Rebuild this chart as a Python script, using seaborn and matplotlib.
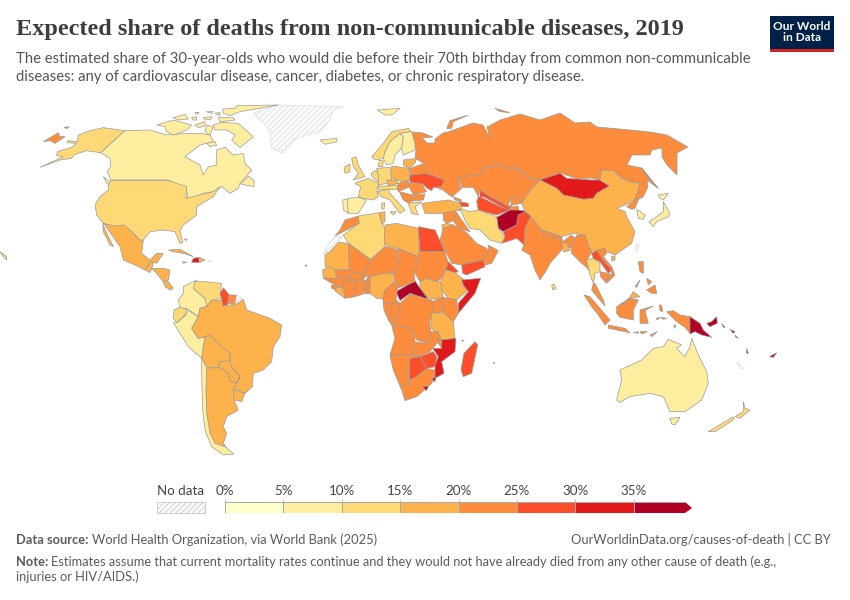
import numpy as np
import matplotlib
matplotlib.use("Agg")
import matplotlib.pyplot as plt
from matplotlib.colors import ListedColormap, BoundaryNorm
from matplotlib.patches import Polygon, Rectangle
import seaborn as sns

# bins of the colour scale
BIN_EDGES = [0, 5, 10, 15, 20, 25, 30, 35, 40]
BIN_COLORS = ["#ffffcc", "#ffeda0", "#fed976", "#feb24c", "#fd8d3c", "#fc4e2a", "#e31a1c", "#b10026"]
TICK_LABELS = ["0%", "5%", "10%", "15%", "20%", "25%", "30%", "35%"]
NAN = float("nan")

# Country outlines. Each region was read from a 3x crop
# so points are crop coordinates, the origin of the crop is in *_ORIGIN.
NA_ORIGIN = (0, 90)
NA_NAMES = ["Alaska", "Canada", "Newfoundland", "Vancouver", "USA", "Mexico", "Baja", "Guatemala", "Honduras", "Panama", "Cuba", "Haiti",
            "Dominican", "Jamaica", "Hawaii", "Chukotka", "Wrangel", "Greenland", "Iceland", "Puerto Rico", "Bahamas", "Cape Verde"]
NA_SHARES = [13, 9, 9, 9, 13, 16, 16, 16, 16, 17, 16, 32,
             16, 16, 13, 22, 22, NAN, 8, NAN, 13, 17]
NA_OUTLINES = [
    [(375,122),(310,113),(270,122),(235,135),(232,155),(205,152),(200,158),(230,160),(215,172),(172,185),(170,197),(190,200),(120,232),(180,210),(215,205),(222,195),(258,182),(302,188)],
    [(375,122),(450,120),(500,135),(555,130),(600,130),(630,135),(640,155),(600,165),(555,200),(600,225),(610,255),(625,230),(650,225),(650,180),(675,172),(700,195),(730,190),(735,220),(755,240),(720,280),(715,295),(690,310),(665,290),(640,305),(610,310),(565,328),(558,295),(505,270),(332,270),(322,245),(332,230),(330,205),(302,188)],
    [(722,282),(745,258),(762,272),(762,290),(735,285)],
    [(310,260),(330,275),(332,285),(320,280)],
    [(332,272),(505,272),(560,290),(558,325),(610,312),(640,305),(660,290),(640,320),(615,335),(590,350),(590,375),(550,405),(540,420),(548,458),(540,460),(525,425),(490,420),(450,425),(430,450),(420,450),(395,425),(370,408),(345,410),(310,400),(290,375),(285,345),(300,320),(325,300),(325,285)],
    [(308,400),(345,408),(372,405),(395,425),(420,452),(430,452),(425,490),(450,510),(470,490),(490,490),(470,520),(452,515),(435,540),(405,525),(370,510),(360,470),(325,420),(315,405)],
    [(308,402),(318,425),(340,470),(330,465),(310,425)],
    [(435,540),(452,515),(460,520),(455,535),(450,548)],
    [(455,535),(490,535),(510,540),(505,570),(490,575),(470,550)],
    [(490,575),(505,575),(520,595),(510,600),(495,590)],
    [(505,480),(540,478),(580,500),(550,490),(520,485)],
    [(580,505),(595,502),(598,517),(575,517)],
    [(598,502),(615,510),(600,517)],
    [(548,515),(560,517),(550,520)],
    [(0,485),(20,500),(20,510),(10,500)],
    [(130,155),(175,128),(180,140),(195,140),(165,160),(150,152)],
    [(192,112),(208,110),(200,116)],
    [(760,70),(830,45),(1030,50),(1000,60),(990,90),(960,125),(890,145),(850,190),(815,175),(810,130),(800,110)],
    [(960,150),(1010,145),(1012,155),(975,163)],
    [(620,512),(635,512),(630,517)],
    [(553,447),(562,447),(558,452)],
    [(915,525),(920,525),(918,530)],
]

# Canadian arctic, a closer crop
ARCTIC_ORIGIN = (150, 95)
ARCTIC_NAMES = ["Victoria", "Melville", "Bathurst", "Cornwallis", "Axel1", "Axel2", "Axel3", "Devon", "Ellesmere", "Somerset", "Baffin", "Melville Pen", "Southampton"]
ARCTIC_SHARES = [9] * 13
ARCTIC_OUTLINES = [
    [(20,90),(70,75),(125,90),(110,105),(70,120),(50,110),(45,95)],
    [(70,68),(105,58),(115,72),(85,75)],
    [(125,68),(140,65),(140,75),(128,75)],
    [(135,52),(148,52),(140,58)],
    [(168,50),(190,50),(185,55)],
    [(160,68),(185,65),(185,72),(165,75)],
    [(195,55),(210,52),(210,62)],
    [(205,68),(250,68),(255,75),(210,80)],
    [(218,42),(255,40),(260,32),(385,30),(330,40),(270,50),(240,62),(220,55)],
    [(135,90),(165,80),(165,92),(145,98)],
    [(190,90),(215,82),(265,85),(310,125),(270,158),(245,135),(255,120),(230,105),(195,105)],
    [(170,90),(190,95),(180,120),(165,110)],
    [(170,145),(195,140),(200,150),(180,155)],
]

SA_ORIGIN = (90, 230)
SA_NAMES = ["Colombia", "Venezuela", "Guyana", "Suriname", "French Guiana", "Ecuador", "Peru", "Brazil", "Bolivia",
            "Paraguay", "Uruguay", "Argentina", "Chile"]
SA_SHARES = [8, 13, 27, 21, NAN, 13, 9, 17, 17, 17, 17, 17, 9]
SA_OUTLINES = [
    [(280,170),(320,150),(310,175),(345,205),(365,225),(330,235),(325,260),(290,235),(270,235),(265,210),(280,190)],
    [(315,155),(345,155),(395,160),(390,190),(395,205),(365,210),(350,230),(345,205),(310,175)],
    [(400,173),(418,195),(412,225),(398,228),(395,205),(390,190)],
    [(415,195),(440,195),(435,222),(415,220)],
    [(440,195),(458,208),(445,222),(437,220)],
    [(252,240),(270,232),(290,238),(285,255),(260,278),(250,265)],
    [(250,278),(262,278),(288,255),(295,240),(325,262),(305,295),(325,325),(345,320),(340,350),(335,385),(295,350)],
    [(350,230),(365,212),(395,210),(398,228),(440,222),(460,208),(470,240),(540,265),(575,285),(570,320),(550,350),(545,395),(520,420),(490,430),(487,470),(465,490),(430,475),(450,440),(420,405),(420,370),(395,350),(360,317),(325,325),(305,295),(325,260),(330,235)],
    [(345,320),(360,317),(395,350),(420,370),(420,392),(390,395),(385,412),(350,412),(335,385)],
    [(390,395),(420,392),(425,412),(450,440),(440,458),(422,455),(415,430),(388,412)],
    [(430,478),(465,490),(455,515),(432,510)],
    [(350,415),(385,412),(415,430),(422,455),(440,458),(450,440),(430,478),(432,510),(445,540),(410,560),(400,590),(410,610),(400,640),(410,655),(375,640),(360,610),(350,550),(348,480)],
    [(335,385),(350,412),(348,480),(350,550),(360,610),(375,640),(405,650),(432,672),(400,675),(365,650),(345,600),(338,540),(335,430)],
]

NORTH_ORIGIN = (320, 100)
NORTH_NAMES = ["Norway", "Sweden", "Finland", "Svalbard", "Novaya Zemlya"]
NORTH_SHARES = [12, 9, 9, 9, 22]
NORTH_OUTLINES = [
    [(155,170),(190,130),(215,95),(265,85),(275,95),(240,100),(210,125),(195,155),(190,175),(165,180)],
    [(195,155),(210,125),(240,100),(250,110),(245,145),(225,165),(220,190),(200,195),(190,175)],
    [(240,100),(275,95),(285,130),(285,150),(250,165),(245,145),(250,110)],
    [(172,30),(240,25),(215,45),(195,45)],
    [(380,85),(390,62),(445,45),(400,65),(395,85)],
]

# rest of Europe and the Levant, a closer crop
EU_ORIGIN = (340, 150)
EU_NAMES = ["UK", "Ireland", "France", "Spain", "Portugal", "Benelux", "Germany", "Denmark", "Poland", "Czechia", "Austria",
            "Italy", "Sardinia", "Sicily", "Hungary", "Romania", "Ukraine", "Belarus", "Baltics", "Balkans", "Bulgaria", "Greece",
            "Turkey", "Georgia", "Azerbaijan", "Syria", "Iraq", "Jordan"]
EU_SHARES = [12, 12, 12, 9, 9, 12, 12, 12, 17, 17, 12,
             12, 12, 12, 22, 22, 27, 22, 19, 21, 22, 13,
             17, 22, 28, 21, 22, 18]
EU_OUTLINES = [
    [(35,25),(48,20),(55,45),(75,80),(40,90),(55,70),(40,50)],
    [(12,52),(30,42),(30,65),(15,70)],
    [(55,95),(85,85),(115,100),(110,120),(115,140),(100,150),(70,145),(55,140),(62,110),(45,100)],
    [(22,145),(55,142),(80,150),(55,190),(25,190),(20,178)],
    [(8,150),(22,147),(25,190),(10,180)],
    [(92,72),(108,60),(115,70),(115,95),(100,85)],
    [(110,55),(150,52),(155,90),(140,100),(115,105),(115,75)],
    [(118,30),(130,32),(128,50),(115,50)],
    [(155,48),(205,55),(210,90),(185,95),(155,85)],
    [(140,90),(170,90),(175,100),(145,108)],
    [(115,108),(145,108),(175,105),(170,118),(115,120)],
    [(112,125),(145,118),(150,130),(195,180),(180,190),(150,150),(125,140)],
    [(125,160),(135,158),(132,178),(125,176)],
    [(150,185),(170,185),(160,195)],
    [(175,100),(205,92),(210,110),(175,125),(172,115)],
    [(205,100),(240,95),(260,125),(220,135),(210,115)],
    [(210,75),(255,70),(285,80),(312,90),(305,110),(280,112),(275,122),(262,115),(245,100),(210,97)],
    [(208,55),(255,40),(262,70),(210,75)],
    [(190,30),(230,25),(225,40),(205,55),(190,45)],
    [(178,125),(218,135),(220,152),(205,160),(190,150)],
    [(220,135),(255,132),(250,150),(220,152)],
    [(205,160),(245,155),(225,170),(235,195),(215,190)],
    [(245,160),(285,155),(325,150),(360,160),(365,180),(315,190),(255,190)],
    [(340,140),(365,150),(360,155),(345,150)],
    [(358,155),(385,160),(385,170),(365,170)],
    [(310,190),(345,183),(350,190),(340,212),(320,220),(310,210)],
    [(350,188),(365,210),(390,245),(355,235),(340,212)],
    [(305,225),(320,220),(340,225),(325,245),(310,245)],
]

AF_ORIGIN = (320, 210)
AF_NAMES = ["Morocco", "Western Sahara", "Algeria", "Tunisia", "Libya", "Egypt", "Sudan", "Eritrea", "Ethiopia", "Somalia",
            "South Sudan", "CAR", "Chad", "Niger", "Mali", "Mauritania", "Senegal", "Guinea", "Sierra Leone", "Liberia", "Burkina",
            "Ivory Coast", "Ghana", "Togo", "Benin", "Nigeria", "Cameroon", "Gabon", "Congo", "DRC", "Uganda", "Kenya", "Tanzania",
            "Angola", "Zambia", "Malawi", "Mozambique", "Zimbabwe", "Botswana", "Namibia", "South Africa", "Lesotho",
            "Eswatini", "Madagascar", "Saudi Arabia", "Yemen", "Oman", "Comoros", "Mauritius"]
AF_SHARES = [22, NAN, 13, 16, 17, 27, 22, 27, 17, 31,
             17, 37, 22, 22, 22, 17, 17, 22, 22, 18, 22,
             22, 21, 22, 22, 17, 22, 22, 22, 22, 22, 21, 17,
             21, 22, 21, 31, 27, 27, 22, 22, 37,
             37, 27, 22, 28, 22, 22, 22]
AF_OUTLINES = [
    [(60,60),(75,30),(115,18),(118,40),(70,65),(45,78)],
    [(45,80),(70,80),(55,95),(30,125),(12,130),(25,105)],
    [(70,75),(118,40),(115,18),(178,8),(185,40),(195,55),(195,110),(152,148),(85,100)],
    [(178,8),(195,5),(195,35),(185,42)],
    [(195,45),(230,40),(295,55),(298,142),(235,115),(205,110),(193,100)],
    [(295,50),(345,60),(375,125),(300,125)],
    [(298,125),(375,125),(385,160),(365,205),(350,215),(320,205),(300,215),(282,185)],
    [(385,155),(415,185),(405,188),(378,180)],
    [(378,180),(405,188),(430,208),(425,225),(445,240),(410,270),(385,265),(365,240),(362,215)],
    [(425,210),(482,205),(465,250),(415,310),(415,280),(445,245),(430,225)],
    [(300,215),(320,205),(345,215),(362,215),(365,240),(370,262),(330,268),(300,235)],
    [(228,245),(285,212),(300,235),(325,268),(270,250),(240,272)],
    [(235,115),(298,142),(282,190),(285,215),(232,235),(222,190),(235,165)],
    [(152,150),(195,110),(232,118),(235,165),(222,190),(190,190),(150,200),(135,200),(130,190)],
    [(85,100),(152,150),(130,190),(135,200),(100,187),(90,200),(50,205),(45,180),(85,180)],
    [(15,135),(30,125),(55,97),(85,100),(88,178),(45,180),(15,170)],
    [(8,180),(28,170),(45,180),(50,205),(10,205)],
    [(10,205),(50,205),(90,200),(85,220),(70,220),(70,235),(45,225)],
    [(35,225),(50,225),(50,240),(35,235)],
    [(50,230),(70,235),(75,265),(45,243)],
    [(90,200),(100,187),(135,200),(130,210),(105,210),(85,220)],
    [(70,220),(105,210),(105,260),(75,265)],
    [(105,210),(130,210),(135,250),(105,260)],
    [(130,210),(140,210),(140,250),(135,250)],
    [(140,205),(150,200),(150,250),(140,250)],
    [(150,200),(190,190),(225,195),(225,215),(195,240),(190,265),(170,265),(150,250)],
    [(225,215),(232,235),(228,270),(240,280),(190,280),(188,265),(195,240)],
    [(190,280),(215,280),(215,315),(205,330),(192,300)],
    [(215,280),(240,280),(240,310),(215,345),(205,330),(215,315)],
    [(240,280),(270,252),(325,268),(345,275),(330,335),(332,365),(355,395),(325,400),(290,390),(270,355),(215,345),(240,310)],
    [(345,270),(370,262),(370,305),(335,310)],
    [(370,262),(410,270),(415,310),(400,335),(370,310)],
    [(335,310),(370,308),(400,335),(405,385),(365,390),(335,355)],
    [(215,345),(270,355),(285,385),(280,435),(210,435),(225,385)],
    [(280,395),(325,400),(332,365),(355,365),(355,395),(330,425),(300,440),(280,435)],
    [(350,365),(362,380),(365,415),(355,400)],
    [(365,390),(408,385),(405,425),(365,455),(372,490),(345,505),(345,465),(355,440),(338,415),(365,415)],
    [(300,440),(340,425),(350,440),(345,470),(320,475)],
    [(270,445),(300,440),(320,475),(290,500),(268,512)],
    [(210,435),(280,435),(300,440),(270,445),(265,525),(240,528),(220,480)],
    [(265,525),(268,510),(290,500),(320,475),(343,480),(345,505),(335,520),(290,560),(255,572),(245,540),(240,528)],
    [(310,530),(325,530),(318,543)],
    [(335,505),(347,503),(345,515)],
    [(465,395),(473,405),(455,490),(430,500),(423,480),(432,430)],
    [(370,55),(400,45),(440,68),(470,100),(500,115),(505,125),(490,150),(425,165),(395,160),(380,130),(360,90)],
    [(425,165),(490,150),(495,170),(440,195),(428,190)],
    [(505,105),(535,122),(515,160),(495,165),(490,150),(505,125)],
    [(425,390),(430,390),(428,395)],
    [(520,458),(525,458),(522,462)],
]

AS_ORIGIN = (450, 100)
AS_NAMES = ["Kazakhstan", "Uzbekistan", "Turkmenistan", "Kyrgyzstan", "Tajikistan", "Afghanistan", "Pakistan", "Iran", "Mongolia",
            "China", "North Korea", "South Korea", "Hokkaido", "Honshu", "Taiwan", "India", "Bangladesh", "Myanmar", "Sakhalin", "Nepal",
            "Arctic islands", "Sri Lanka"]
AS_SHARES = [22, 27, 27, 22, 24, 37, 27, 13, 32, 17, 22, 8, 8, 8, NAN, 21, 17, 21, 22, 21, 22, 13]
AS_OUTLINES = [
    [(25,230),(95,225),(100,205),(150,195),(175,205),(200,205),(240,235),(270,240),(245,265),(215,310),(200,290),(180,295),(175,320),(120,290),(90,270),(85,290),(70,262),(35,262)],
    [(90,270),(120,290),(175,320),(190,310),(175,330),(155,320),(100,290),(90,295)],
    [(80,305),(85,290),(100,295),(150,320),(180,330),(140,345),(85,330)],
    [(180,295),(200,290),(215,310),(185,315)],
    [(178,322),(205,318),(205,330),(180,332)],
    [(140,352),(180,330),(205,330),(235,335),(205,345),(200,375),(160,395),(145,385)],
    [(160,395),(200,375),(205,345),(225,335),(245,350),(225,385),(222,435),(200,415),(155,430),(165,410)],
    [(30,325),(60,335),(85,330),(140,350),(145,385),(165,410),(155,430),(120,420),(90,390),(60,385),(45,360)],
    [(270,240),(330,220),(350,235),(425,240),(450,240),(478,258),(440,280),(430,295),(400,298),(340,285),(320,265)],
    [(215,310),(245,265),(270,240),(320,265),(340,285),(400,298),(430,295),(440,280),(478,258),(450,240),(455,210),(490,212),(515,235),(540,245),(570,250),(565,270),(550,305),(525,315),(500,325),(525,335),(530,350),(555,395),(545,430),(495,465),(470,455),(435,460),(415,440),(405,405),(370,400),(335,410),(275,390),(255,370),(240,345),(225,335)],
    [(530,320),(550,305),(568,292),(555,325),(545,328)],
    [(560,328),(585,345),(580,358),(565,355)],
    [(625,285),(655,280),(640,300),(630,295)],
    [(640,305),(660,340),(655,350),(620,365),(610,380),(597,365),(620,350),(640,335)],
    [(560,430),(568,435),(560,455),(555,445)],
    [(215,450),(222,435),(225,385),(240,352),(258,368),(272,390),(335,412),(338,425),(365,405),(375,415),(362,440),(350,445),(345,428),(335,450),(300,490),(290,510),(270,540),(255,510),(240,465)],
    [(335,425),(350,430),(360,452),(340,455)],
    [(381,405),(405,405),(414,435),(426,456),(411,480),(420,510),(426,525),(413,505),(395,490),(385,480),(365,460),(362,440)],
    [(575,205),(590,225),(625,265),(605,250)],
    [(275,390),(335,412),(330,418),(280,405)],
    [(135,25),(180,38),(150,35)],
    [(305,555),(312,552),(318,565),(308,570)],
]

SE_ORIGIN = (570, 240)
SE_NAMES = ["Thailand", "Malaysia", "Laos", "Vietnam", "Cambodia", "Sumatra", "Java", "Kalimantan", "Sabah", "Sulawesi", "West Papua", "PNG",
            "Luzon", "Mindanao", "Visayas", "Timor1", "Timor2", "Timor3", "Seram1", "Seram2", "Halmahera", "Aru", "Solomon1", "Solomon2",
            "Solomon3", "Solomon4", "Vanuatu", "Fiji", "Australia", "Tasmania", "NZ south", "NZ north", "New Caledonia", "Palawan", "Hainan"]
SE_SHARES = [13, 21, 27, 22, 21, 21, 21, 21, 17, 21, 21, 37,
             22, 22, 22, 21, 21, 21, 21, 21, 21, 21, 37, 37,
             37, 37, 37, 37, 9, 9, 13, 13, NAN, 22, 17]
SE_OUTLINES = [
    [(50,60),(70,55),(90,70),(90,95),(75,100),(70,130),(60,105)],
    [(70,130),(75,130),(100,180),(105,198),(85,175),(65,150)],
    [(65,40),(85,30),(95,55),(125,90),(115,100),(90,65),(70,55)],
    [(80,30),(105,25),(110,40),(100,50),(125,80),(135,105),(110,130),(105,125),(125,100),(125,90),(95,55)],
    [(90,95),(115,100),(120,105),(105,125),(92,110)],
    [(42,165),(60,170),(120,240),(105,255),(85,225),(65,200)],
    [(115,255),(165,265),(180,278),(140,270),(115,265)],
    [(140,200),(180,175),(205,180),(190,210),(190,240),(150,232),(140,220)],
    [(150,195),(175,178),(190,155),(210,170),(180,175)],
    [(210,210),(250,198),(225,212),(235,250),(210,250)],
    [(290,215),(310,212),(330,225),(360,230),(360,280),(345,262),(320,245)],
    [(360,230),(390,250),(400,270),(425,292),(395,285),(375,275),(360,282)],
    [(205,65),(220,65),(220,100),(210,95)],
    [(230,150),(255,135),(260,160),(245,160)],
    [(230,115),(245,125),(235,135)],
    [(190,278),(205,275),(205,280)],
    [(210,275),(232,275),(215,282)],
    [(240,285),(262,275),(245,290)],
    [(258,235),(270,232),(262,240)],
    [(272,232),(290,235),(280,238)],
    [(268,195),(275,195),(278,215),(270,212)],
    [(312,255),(318,255),(314,265)],
    [(410,250),(425,245),(440,230),(442,250),(420,260)],
    [(455,250),(465,262),(460,262)],
    [(480,268),(495,275),(490,280)],
    [(495,285),(505,295),(498,292)],
    [(530,325),(535,340),(530,340)],
    [(598,350),(620,338),(610,352)],
    [(140,480),(155,420),(150,390),(215,360),(250,325),(280,320),(295,298),(335,315),(320,325),(345,350),(360,320),(365,295),(385,345),(410,395),(415,430),(395,480),(345,515),(300,515),(280,470),(240,460),(180,470),(150,487)],
    [(300,535),(330,532),(315,555),(305,552)],
    [(415,575),(490,530),(490,540),(435,575)],
    [(495,530),(520,515),(520,485),(525,505),(540,510),(510,535)],
    [(500,365),(520,385),(510,385)],
    [(195,140),(210,120),(200,142)],
    [(125,50),(135,47),(135,60),(125,62)],
]

# Russia crosses several crops, read straight in figure pixels
RUSSIA_SHARE = 22
RUSSIA_OUTLINE = [(412,132),(423,133),(433,137),(422,138),(427,143),(435,143),(435,139),(443,133),(448,132),(473,123),(483,125),(490,138),(487,127),
                  (500,120),(520,114),(540,120),(560,113),(575,123),(590,122),(597,127),(630,130),(650,132),(667,135),(688,147),(677,153),(677,175),
                  (667,165),(662,157),(662,148),(652,150),(650,155),(632,155),(627,165),(642,168),(658,188),(647,180),(648,187),(643,197),(633,202),
                  (638,190),(640,183),(630,182),(622,178),(613,171),(602,170),(600,180),(590,178),(578,179),(560,173),(540,180),(530,178),(517,168),
                  (508,168),(500,165),(483,168),(482,175),(458,177),(460,187),(462,188),(452,197),(443,190),(435,187),(444,180),(435,177),(426,173),
                  (423,163),(415,158),(416,150),(415,143)]

sns.set_theme(style="white")
plt.rcParams['font.family'] = ['Lato', 'DejaVu Sans']
plt.rcParams['hatch.linewidth'] = 0.6
plt.rcParams['hatch.color'] = '#dddddd'

palette = sns.color_palette(BIN_COLORS)
cmap = ListedColormap(palette)
norm = BoundaryNorm(BIN_EDGES, cmap.N)

fig = plt.figure(figsize=(8.5, 6), dpi=100)
ax = fig.add_axes([0, 0, 1, 1])
ax.set_xlim(0, 850)
ax.set_ylim(600, 0)
ax.axis("off")


def draw_country(points, share):
    if np.isnan(share):
        ax.add_patch(Polygon(points, closed=True, facecolor="#fbfbfb", edgecolor="#dedede", lw=0.5, hatch="//////"))
    else:
        ax.add_patch(Polygon(points, closed=True, facecolor=cmap(norm(share)), edgecolor="#9a9a9a", lw=0.5))


def draw_region(origin, names, shares, outlines):
    for name, share, outline in zip(names, shares, outlines):
        points = [(origin[0] + x / 3, origin[1] + y / 3) for x, y in outline]
        draw_country(points, share)


draw_country(RUSSIA_OUTLINE, RUSSIA_SHARE)
draw_region(NA_ORIGIN, NA_NAMES, NA_SHARES, NA_OUTLINES)
draw_region(ARCTIC_ORIGIN, ARCTIC_NAMES, ARCTIC_SHARES, ARCTIC_OUTLINES)
draw_region(SA_ORIGIN, SA_NAMES, SA_SHARES, SA_OUTLINES)
draw_region(NORTH_ORIGIN, NORTH_NAMES, NORTH_SHARES, NORTH_OUTLINES)
draw_region(EU_ORIGIN, EU_NAMES, EU_SHARES, EU_OUTLINES)
draw_region(AF_ORIGIN, AF_NAMES, AF_SHARES, AF_OUTLINES)
draw_region(AS_ORIGIN, AS_NAMES, AS_SHARES, AS_OUTLINES)
draw_region(SE_ORIGIN, SE_NAMES, SE_SHARES, SE_OUTLINES)

# title block
ax.text(16, 30, "Expected share of deaths from non-communicable diseases, 2019", fontsize=17.5,
        family=["Liberation Serif"], weight="bold", color="#3d3d3d", va="center")
ax.text(16, 59, "The estimated share of 30-year-olds who would die before their 70th birthday from common non-communicable",
        fontsize=10.75, color="#555555", va="center")
ax.text(16, 77, "diseases: any of cardiovascular disease, cancer, diabetes, or chronic respiratory disease.",
        fontsize=10.75, color="#555555", va="center")

# logo
ax.add_patch(Rectangle((770, 16), 64, 36, facecolor="#002147", edgecolor="none"))
ax.add_patch(Rectangle((770, 49), 64, 3, facecolor="#ce261e", edgecolor="none"))
ax.text(802, 32, "Our World\nin Data", fontsize=8.6, weight="bold", color="white", ha="center", va="center", linespacing=1.0)

# legend
ax.add_patch(Rectangle((157, 502), 48, 11, facecolor="#fbfbfb", edgecolor="#c8c8c8", lw=0.6, hatch="//////"))
ax.text(181, 491, "No data", fontsize=9.6, color="#444444", ha="center", va="center")

bar = fig.add_axes([225 / 850, 1 - 513 / 600, 467 / 850, 11 / 600])
mids = np.array(BIN_EDGES[:-1]) + 2.5
sns.heatmap(mids.reshape(1, -1), ax=bar, cmap=cmap, norm=norm, cbar=False, linewidths=0.6, linecolor="#a8a8a8",
            xticklabels=False, yticklabels=False)
arrow = Polygon([(0, 0), (7.88, 0), (8, 0.5), (7.88, 1), (0, 1)], closed=True, transform=bar.transData)
bar.collections[0].set_clip_path(arrow)
bar.xaxis.tick_top()
bar.set_xticks(np.arange(8))
bar.set_xticklabels(TICK_LABELS, fontsize=9.6, color="#444444")
bar.tick_params(axis="x", length=2, width=0.5, color="#a8a8a8", pad=1.5, top=True, bottom=False)
bar.set_xlabel("")
bar.set_ylabel("")

# footer
ax.text(16, 540, "Data source:", fontsize=9.3, weight="bold", color="#5b5b5b", va="center")
ax.text(92, 540, "World Health Organization, via World Bank (2025)", fontsize=9.3, color="#5b5b5b", va="center")
ax.text(831, 540, "OurWorldinData.org/causes-of-death | CC BY", fontsize=9.3, color="#5b5b5b", va="center", ha="right")
ax.text(16, 562, "Note:", fontsize=9.3, weight="bold", color="#5b5b5b", va="center")
ax.text(51, 562, "Estimates assume that current mortality rates continue and they would not have already died from any other cause of death (e.g.,",
        fontsize=9.3, color="#5b5b5b", va="center")
ax.text(16, 577, "injuries or HIV/AIDS.)", fontsize=9.3, color="#5b5b5b", va="center")

fig.savefig("out.png", dpi=100)
